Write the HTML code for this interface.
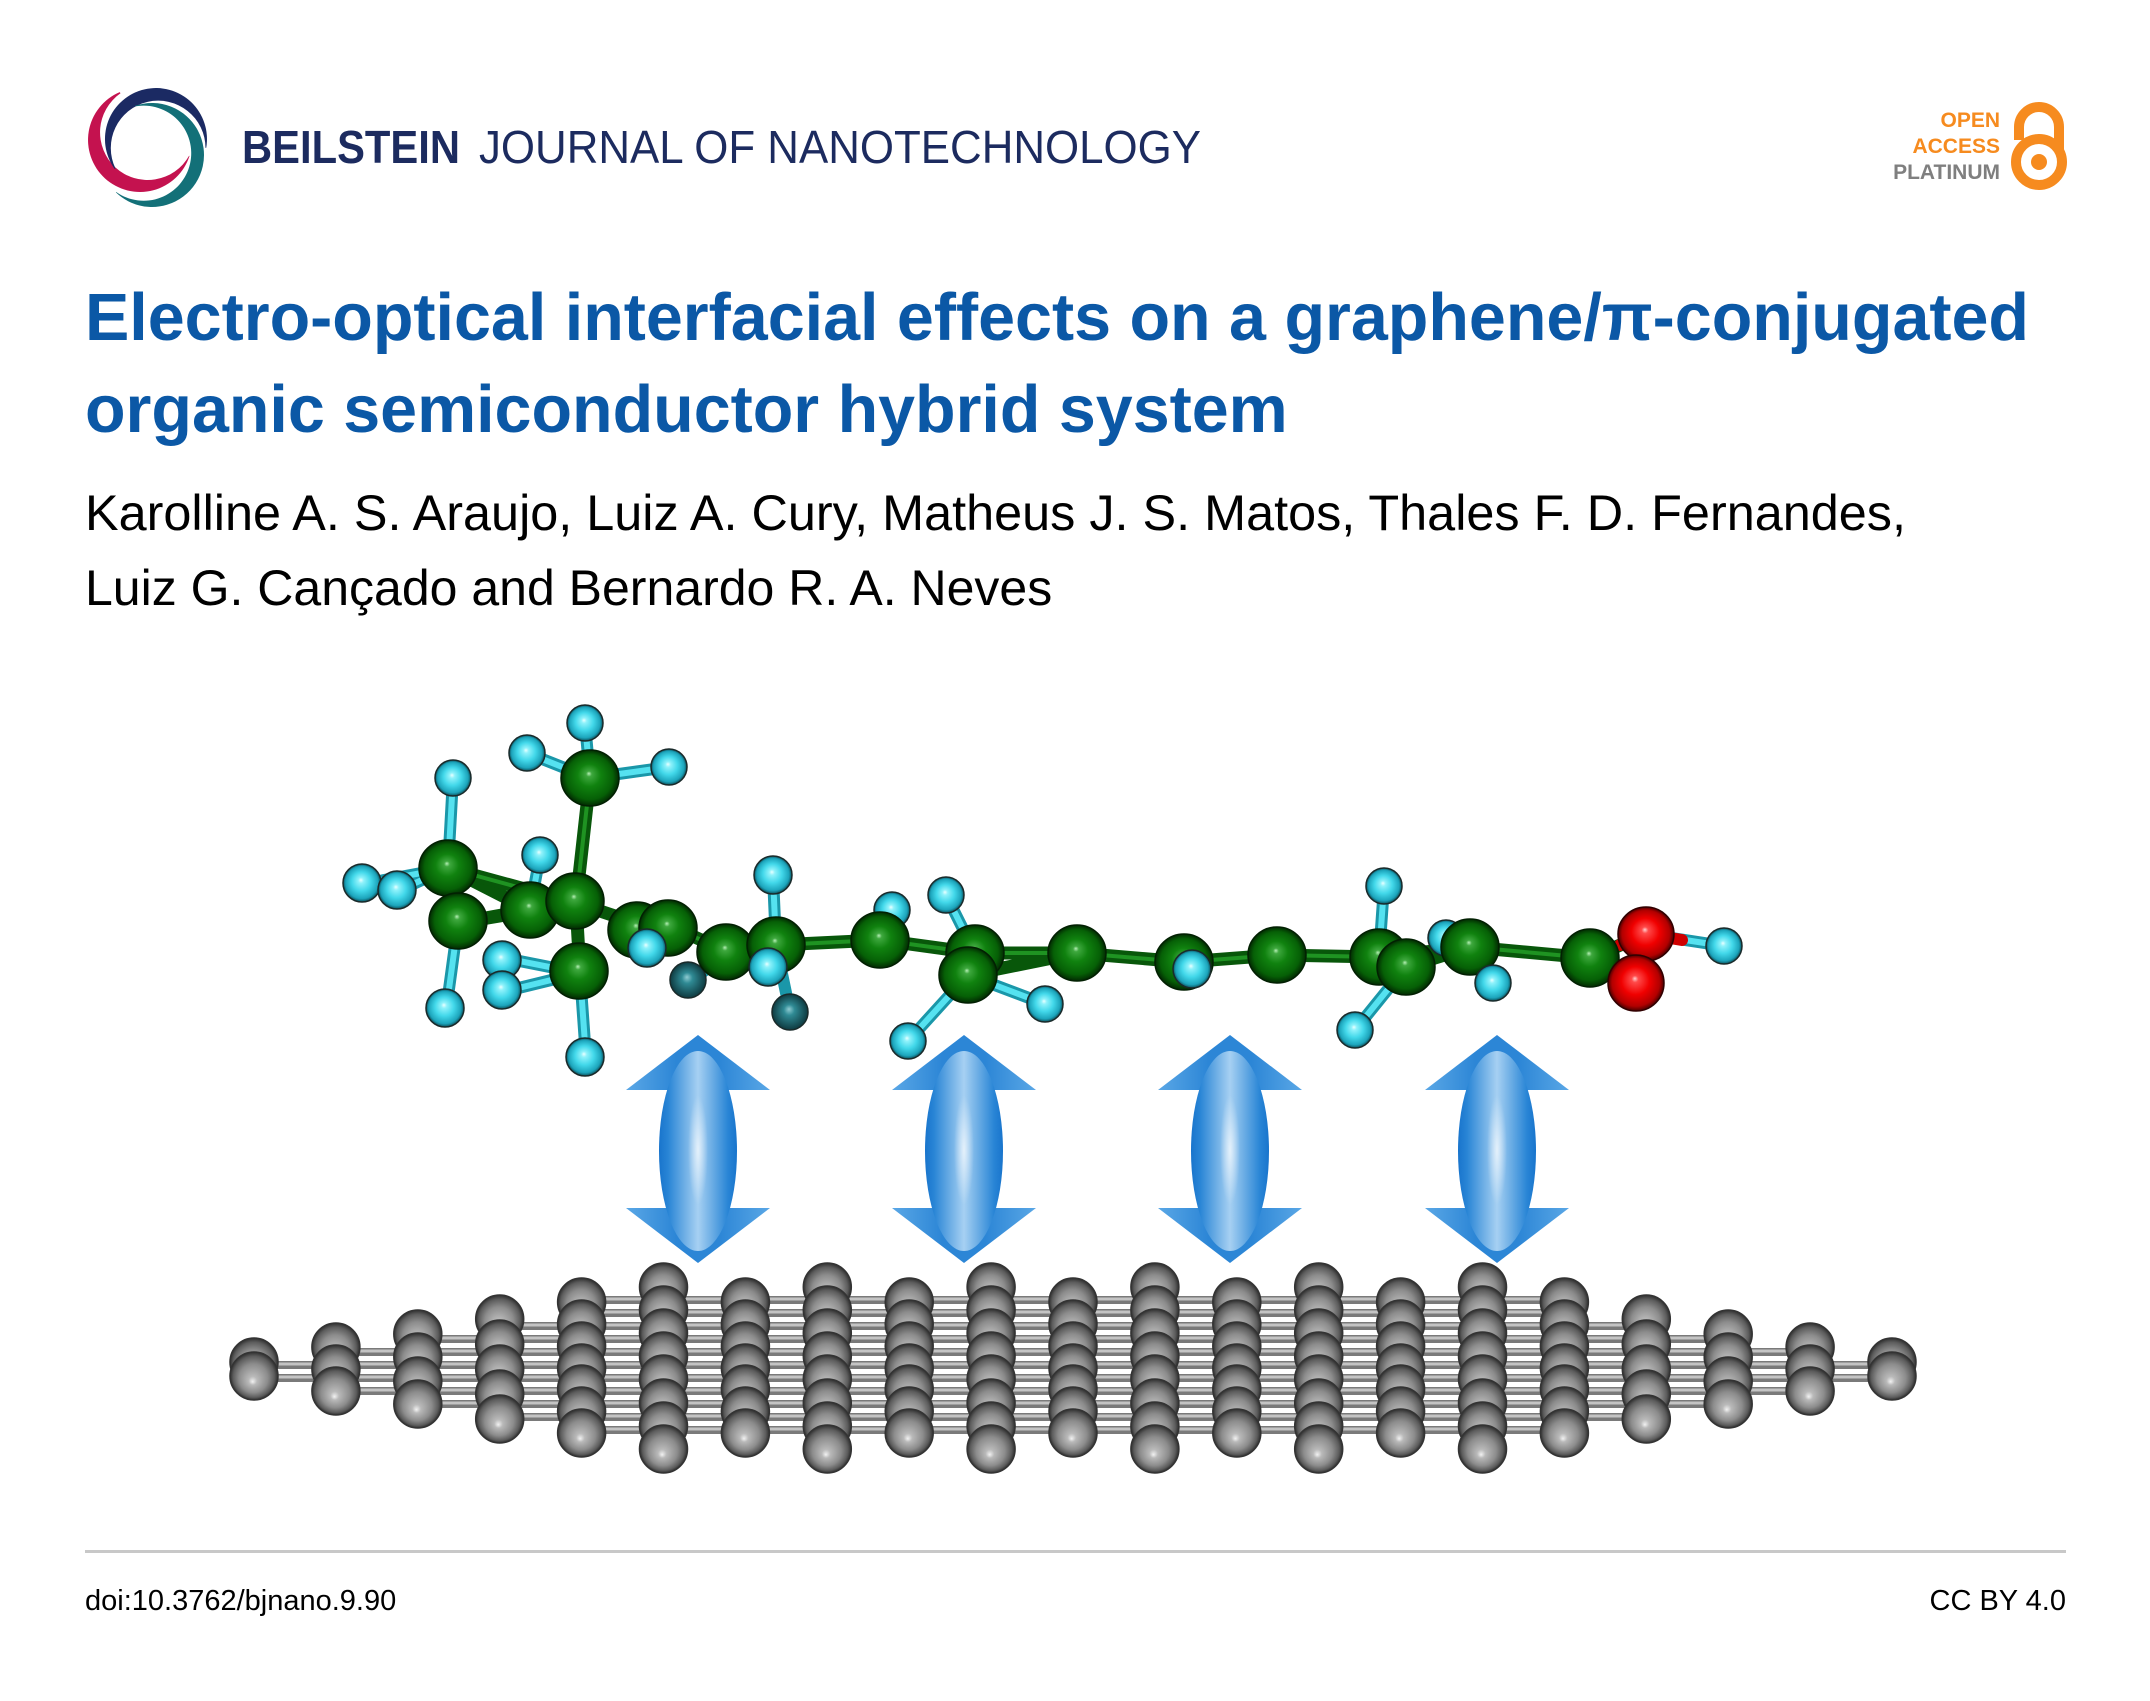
<!DOCTYPE html>
<html><head><meta charset="utf-8"><style>
html,body{margin:0;padding:0;background:#fff;}
svg{display:block;}
</style></head><body>
<svg width="2150" height="1701" viewBox="0 0 2150 1701" xmlns="http://www.w3.org/2000/svg">
<defs>
<radialGradient id="gG" cx="0.5" cy="0.5" r="0.5" fx="0.47" fy="0.62">
<stop offset="0" stop-color="#f2f2f2"/><stop offset="0.18" stop-color="#b9b9b9"/><stop offset="0.6" stop-color="#8c8c8c"/><stop offset="0.86" stop-color="#5c5c5c"/><stop offset="1" stop-color="#2e2e2e"/>
</radialGradient>
<radialGradient id="gC" cx="0.5" cy="0.5" r="0.5" fx="0.48" fy="0.42">
<stop offset="0" stop-color="#b6f0b6"/><stop offset="0.1" stop-color="#3ea83e"/><stop offset="0.4" stop-color="#10820f"/><stop offset="0.8" stop-color="#066006"/><stop offset="1" stop-color="#022a02"/>
</radialGradient>
<radialGradient id="gH" cx="0.5" cy="0.5" r="0.5" fx="0.47" fy="0.42">
<stop offset="0" stop-color="#eaffff"/><stop offset="0.15" stop-color="#8ff2fb"/><stop offset="0.5" stop-color="#42d8ea"/><stop offset="0.85" stop-color="#1ca4bb"/><stop offset="1" stop-color="#0c4f5a"/>
</radialGradient>
<radialGradient id="gHd" cx="0.5" cy="0.5" r="0.5" fx="0.47" fy="0.42">
<stop offset="0" stop-color="#8fcbd2"/><stop offset="0.3" stop-color="#2f8a94"/><stop offset="1" stop-color="#0e3a40"/>
</radialGradient>
<radialGradient id="gO" cx="0.5" cy="0.5" r="0.5" fx="0.48" fy="0.42">
<stop offset="0" stop-color="#ffd0d0"/><stop offset="0.12" stop-color="#ff4a4a"/><stop offset="0.5" stop-color="#f00000"/><stop offset="0.85" stop-color="#b20000"/><stop offset="1" stop-color="#4a0000"/>
</radialGradient>
<linearGradient id="gHead" x1="0" y1="0" x2="1" y2="0">
<stop offset="0" stop-color="#5aa7e6"/><stop offset="0.35" stop-color="#2c86d6"/><stop offset="0.65" stop-color="#2c86d6"/><stop offset="1" stop-color="#5aa7e6"/>
</linearGradient>
<linearGradient id="gShaft" x1="0" y1="0" x2="1" y2="0">
<stop offset="0" stop-color="#1874cc"/><stop offset="0.12" stop-color="#2a86d6"/><stop offset="0.5" stop-color="#a6d0f2"/><stop offset="0.88" stop-color="#2a86d6"/><stop offset="1" stop-color="#1874cc"/>
</linearGradient>
<radialGradient id="gGlow" cx="0.5" cy="0.5" r="0.5">
<stop offset="0" stop-color="#ffffff" stop-opacity="0.7"/><stop offset="1" stop-color="#ffffff" stop-opacity="0"/>
</radialGradient>

<g id="arrow">
<polygon points="-72,1090 0,1035 72,1090" fill="url(#gHead)"/>
<polygon points="-72,1208 0,1263 72,1208" fill="url(#gHead)"/>
<ellipse cx="0" cy="1151" rx="39" ry="100" fill="url(#gShaft)"/>
<ellipse cx="0" cy="1150" rx="10" ry="55" fill="url(#gGlow)"/>
</g>

<g id="c2" fill="url(#gG)" stroke="#333" stroke-width="1.5">
<ellipse cx="0" cy="1362" rx="24" ry="24"/><ellipse cx="0" cy="1376" rx="24" ry="24"/>
</g>
<g id="c3" fill="url(#gG)" stroke="#333" stroke-width="1.5">
<ellipse cx="0" cy="1347" rx="24" ry="24"/><ellipse cx="0" cy="1369" rx="24" ry="24"/><ellipse cx="0" cy="1391" rx="24" ry="24"/>
</g>
<g id="c4" fill="url(#gG)" stroke="#333" stroke-width="1.5">
<ellipse cx="0" cy="1334" rx="24" ry="24"/><ellipse cx="0" cy="1357" rx="24" ry="24"/><ellipse cx="0" cy="1381" rx="24" ry="24"/><ellipse cx="0" cy="1404" rx="24" ry="24"/>
</g>
<g id="c5" fill="url(#gG)" stroke="#333" stroke-width="1.5">
<ellipse cx="0" cy="1319" rx="24" ry="24"/><ellipse cx="0" cy="1344" rx="24" ry="24"/><ellipse cx="0" cy="1369" rx="24" ry="24"/><ellipse cx="0" cy="1394" rx="24" ry="24"/><ellipse cx="0" cy="1419" rx="24" ry="24"/>
</g>
<g id="cS" fill="url(#gG)" stroke="#333" stroke-width="1.5">
<ellipse cx="0" cy="1302" rx="24" ry="24"/><ellipse cx="0" cy="1324" rx="24" ry="24"/><ellipse cx="0" cy="1346" rx="24" ry="24"/><ellipse cx="0" cy="1368" rx="24" ry="24"/><ellipse cx="0" cy="1389" rx="24" ry="24"/><ellipse cx="0" cy="1411" rx="24" ry="24"/><ellipse cx="0" cy="1433" rx="24" ry="24"/>
</g>
<g id="cT" fill="url(#gG)" stroke="#333" stroke-width="1.5">
<ellipse cx="0" cy="1287" rx="24" ry="24"/><ellipse cx="0" cy="1310" rx="24" ry="24"/><ellipse cx="0" cy="1333" rx="24" ry="24"/><ellipse cx="0" cy="1356" rx="24" ry="24"/><ellipse cx="0" cy="1379" rx="24" ry="24"/><ellipse cx="0" cy="1403" rx="24" ry="24"/><ellipse cx="0" cy="1426" rx="24" ry="24"/><ellipse cx="0" cy="1449" rx="24" ry="24"/>
</g>
</defs>

<rect x="0" y="0" width="2150" height="1701" fill="#ffffff"/>

<!-- Logo -->
<path d="M119.7,92.1 A52,52 0 1 0 189.5,156 L189.1,155.8 A47.6,47.6 0 1 1 120.5,93.3 Z" fill="#c4124f"/>
<path d="M114.7,169 A51,51 0 1 1 206.2,147.9 L205.5,147.9 A47.35,47.35 0 1 0 115.5,168.6 Z" fill="#1b2a63"/>
<path d="M135.1,105.8 A52,52 0 1 1 115.9,192.4 L116.2,192 A47.55,47.55 0 1 0 135.2,106.4 Z" fill="#137078"/>

<text x="242" y="163" font-family="'Liberation Sans', sans-serif" font-size="46" font-weight="bold" fill="#1c2b5f" textLength="218" lengthAdjust="spacingAndGlyphs">BEILSTEIN</text>
<text x="479" y="163" font-family="'Liberation Sans', sans-serif" font-size="46" fill="#1c2b5f" textLength="722" lengthAdjust="spacingAndGlyphs">JOURNAL OF NANOTECHNOLOGY</text>

<!-- Open access -->
<g font-family="'Liberation Sans', sans-serif" font-size="21" font-weight="bold" text-anchor="end">
<text x="2000" y="127" fill="#f68b1f">OPEN</text>
<text x="2000" y="153" fill="#f68b1f">ACCESS</text>
<text x="2000" y="179" fill="#7f7f7f">PLATINUM</text>
</g>
<path d="M2019,140 L2019,127 A20,20 0 0 1 2059,127 L2059,152" fill="none" stroke="#f68b1f" stroke-width="10"/>
<circle cx="2039" cy="162" r="23" fill="none" stroke="#f68b1f" stroke-width="10"/>
<circle cx="2039" cy="162" r="8" fill="#f68b1f"/>

<!-- Title -->
<g font-family="'Liberation Sans', sans-serif" font-size="66.4" font-weight="bold" fill="#0b58a6">
<text x="85" y="340" textLength="1944" lengthAdjust="spacingAndGlyphs">Electro-optical interfacial effects on a graphene/π-conjugated</text>
<text x="85" y="432">organic semiconductor hybrid system</text>
</g>
<g font-family="'Liberation Sans', sans-serif" font-size="50" fill="#000">
<text x="85" y="530" textLength="1821" lengthAdjust="spacingAndGlyphs">Karolline A. S. Araujo, Luiz A. Cury, Matheus J. S. Matos, Thales F. D. Fernandes,</text>
<text x="85" y="605">Luiz G. Cançado and Bernardo R. A. Neves</text>
</g>

<!-- Arrows -->
<use href="#arrow" x="698" y="0"/>
<use href="#arrow" x="964" y="0"/>
<use href="#arrow" x="1230" y="0"/>
<use href="#arrow" x="1497" y="0"/>

<!-- Graphene bonds -->
<g stroke="#7a7a7a" stroke-width="8">
<line x1="254" y1="1365" x2="1892" y2="1365"/><line x1="254" y1="1378" x2="1892" y2="1378"/>
<line x1="336" y1="1352" x2="1810" y2="1352"/><line x1="336" y1="1391" x2="1810" y2="1391"/>
<line x1="418" y1="1339" x2="1728" y2="1339"/><line x1="418" y1="1404" x2="1728" y2="1404"/>
<line x1="500" y1="1326" x2="1646" y2="1326"/><line x1="500" y1="1417" x2="1646" y2="1417"/>
<line x1="582" y1="1313" x2="1564" y2="1313"/><line x1="582" y1="1430" x2="1564" y2="1430"/>
<line x1="582" y1="1300" x2="1564" y2="1300"/>
</g>
<g stroke="#c4c4c4" stroke-width="3">
<line x1="254" y1="1364" x2="1892" y2="1364"/><line x1="254" y1="1377" x2="1892" y2="1377"/>
<line x1="336" y1="1351" x2="1810" y2="1351"/><line x1="336" y1="1390" x2="1810" y2="1390"/>
<line x1="418" y1="1338" x2="1728" y2="1338"/><line x1="418" y1="1403" x2="1728" y2="1403"/>
<line x1="500" y1="1325" x2="1646" y2="1325"/><line x1="500" y1="1416" x2="1646" y2="1416"/>
<line x1="582" y1="1312" x2="1564" y2="1312"/><line x1="582" y1="1429" x2="1564" y2="1429"/>
<line x1="582" y1="1299" x2="1564" y2="1299"/>
</g>

<!-- Graphene atoms -->
<use href="#c2" x="254" y="0"/>
<use href="#c3" x="335.9" y="0"/>
<use href="#c4" x="417.8" y="0"/>
<use href="#c5" x="499.7" y="0"/>
<use href="#cS" x="581.6" y="0"/>
<use href="#cT" x="663.5" y="0"/>
<use href="#cS" x="745.4" y="0"/>
<use href="#cT" x="827.3" y="0"/>
<use href="#cS" x="909.2" y="0"/>
<use href="#cT" x="991.1" y="0"/>
<use href="#cS" x="1073" y="0"/>
<use href="#cT" x="1154.9" y="0"/>
<use href="#cS" x="1236.8" y="0"/>
<use href="#cT" x="1318.7" y="0"/>
<use href="#cS" x="1400.6" y="0"/>
<use href="#cT" x="1482.5" y="0"/>
<use href="#cS" x="1564.4" y="0"/>
<use href="#c5" x="1646.3" y="0"/>
<use href="#c4" x="1728.2" y="0"/>
<use href="#c3" x="1810.1" y="0"/>
<use href="#c2" x="1892" y="0"/>

<!-- Molecule bonds: C-H (cyan) -->
<g stroke="#1a97a9" stroke-width="12" stroke-linecap="round">
<line x1="590" y1="778" x2="585" y2="723"/><line x1="590" y1="778" x2="527" y2="753"/><line x1="590" y1="778" x2="669" y2="767"/>
<line x1="448" y1="868" x2="453" y2="778"/><line x1="448" y1="868" x2="363" y2="884"/><line x1="448" y1="868" x2="398" y2="891"/>
<line x1="530" y1="910" x2="540" y2="855"/><line x1="580" y1="973" x2="504" y2="958"/><line x1="580" y1="973" x2="502" y2="992"/>
<line x1="458" y1="923" x2="446" y2="1011"/><line x1="580" y1="973" x2="586" y2="1058"/><line x1="668" y1="925" x2="647" y2="945"/>
<line x1="728" y1="952" x2="690" y2="982"/><line x1="776" y1="945" x2="773" y2="876"/><line x1="776" y1="945" x2="770" y2="973"/>
<line x1="776" y1="945" x2="790" y2="1012"/><line x1="880" y1="940" x2="892" y2="910"/><line x1="975" y1="953" x2="946" y2="895"/>
<line x1="968" y1="975" x2="908" y2="1041"/><line x1="968" y1="975" x2="1045" y2="1004"/><line x1="1184" y1="962" x2="1192" y2="969"/>
<line x1="1379" y1="957" x2="1384" y2="886"/><line x1="1406" y1="967" x2="1355" y2="1030"/><line x1="1470" y1="947" x2="1446" y2="938"/>
<line x1="1470" y1="947" x2="1493" y2="983"/><line x1="1646" y1="934" x2="1724" y2="946"/>
</g>
<g stroke="#55e2f0" stroke-width="6" stroke-linecap="round">
<line x1="590" y1="778" x2="585" y2="723"/><line x1="590" y1="778" x2="527" y2="753"/><line x1="590" y1="778" x2="669" y2="767"/>
<line x1="448" y1="868" x2="453" y2="778"/><line x1="448" y1="868" x2="363" y2="884"/><line x1="448" y1="868" x2="398" y2="891"/>
<line x1="530" y1="910" x2="540" y2="855"/><line x1="580" y1="973" x2="504" y2="958"/><line x1="580" y1="973" x2="502" y2="992"/>
<line x1="458" y1="923" x2="446" y2="1011"/><line x1="580" y1="973" x2="586" y2="1058"/><line x1="668" y1="925" x2="647" y2="945"/>
<line x1="776" y1="945" x2="773" y2="876"/><line x1="776" y1="945" x2="770" y2="973"/>
<line x1="880" y1="940" x2="892" y2="910"/><line x1="975" y1="953" x2="946" y2="895"/>
<line x1="968" y1="975" x2="908" y2="1041"/><line x1="968" y1="975" x2="1045" y2="1004"/>
<line x1="1379" y1="957" x2="1384" y2="886"/><line x1="1406" y1="967" x2="1355" y2="1030"/>
<line x1="1470" y1="947" x2="1493" y2="983"/><line x1="1685" y1="940" x2="1724" y2="946"/>
</g>
<!-- C-C bonds (green) -->
<g stroke="#08570a" stroke-width="13" stroke-linecap="round">
<line x1="590" y1="778" x2="576" y2="903"/><line x1="448" y1="868" x2="458" y2="923"/><line x1="448" y1="868" x2="530" y2="910"/>
<line x1="448" y1="868" x2="576" y2="903"/><line x1="458" y1="923" x2="530" y2="910"/><line x1="458" y1="923" x2="576" y2="903"/>
<line x1="530" y1="910" x2="576" y2="903"/><line x1="576" y1="903" x2="580" y2="973"/><line x1="576" y1="903" x2="642" y2="925"/>
<line x1="642" y1="925" x2="668" y2="925"/><line x1="668" y1="925" x2="728" y2="952"/><line x1="728" y1="952" x2="776" y2="945"/>
<line x1="776" y1="945" x2="880" y2="940"/><line x1="880" y1="940" x2="975" y2="953"/><line x1="975" y1="953" x2="968" y2="975"/>
<line x1="975" y1="953" x2="1077" y2="953"/><line x1="968" y1="975" x2="1077" y2="953"/><line x1="1077" y1="953" x2="1184" y2="962"/>
<line x1="1184" y1="962" x2="1277" y2="955"/><line x1="1277" y1="955" x2="1379" y2="957"/><line x1="1379" y1="957" x2="1406" y2="967"/>
<line x1="1406" y1="967" x2="1470" y2="947"/><line x1="1379" y1="957" x2="1470" y2="947"/><line x1="1470" y1="947" x2="1590" y2="958"/>
<line x1="1590" y1="958" x2="1646" y2="934"/><line x1="1590" y1="958" x2="1636" y2="983"/>
</g>
<g stroke="#1f9322" stroke-width="4" stroke-linecap="round">
<line x1="590" y1="778" x2="576" y2="903"/><line x1="448" y1="868" x2="576" y2="903"/>
<line x1="668" y1="925" x2="728" y2="952"/><line x1="728" y1="952" x2="776" y2="945"/>
<line x1="776" y1="945" x2="880" y2="940"/><line x1="880" y1="940" x2="975" y2="953"/>
<line x1="975" y1="953" x2="1077" y2="953"/><line x1="1077" y1="953" x2="1184" y2="962"/>
<line x1="1184" y1="962" x2="1277" y2="955"/><line x1="1277" y1="955" x2="1379" y2="957"/>
<line x1="1470" y1="947" x2="1590" y2="958"/>
</g>
<g stroke="#d00000" stroke-width="12" stroke-linecap="round">
<line x1="1620" y1="945" x2="1646" y2="934"/><line x1="1615" y1="972" x2="1636" y2="983"/><line x1="1646" y1="934" x2="1682" y2="940"/>
</g>

<!-- back atoms -->
<g stroke="#1a2a2a" stroke-width="1.5">
<circle cx="892" cy="910" r="18" fill="url(#gH)"/>
<circle cx="1446" cy="938" r="18" fill="url(#gH)"/>
<circle cx="688" cy="980" r="18" fill="url(#gHd)"/>
<circle cx="790" cy="1012" r="18" fill="url(#gHd)"/>
<circle cx="362" cy="883" r="19" fill="url(#gH)"/>
<circle cx="397" cy="890" r="19" fill="url(#gH)"/>
</g>
<!-- carbons / oxygens -->
<g stroke="#022002" stroke-width="1.5">
<ellipse cx="590" cy="778" rx="29" ry="28" fill="url(#gC)"/>
<ellipse cx="448" cy="868" rx="29" ry="28" fill="url(#gC)"/>
<ellipse cx="530" cy="910" rx="29" ry="28" fill="url(#gC)"/>
<ellipse cx="458" cy="921" rx="29" ry="28" fill="url(#gC)"/>
<ellipse cx="575" cy="901" rx="29" ry="28" fill="url(#gC)"/>
<ellipse cx="637" cy="930" rx="29" ry="28" fill="url(#gC)"/>
<ellipse cx="668" cy="928" rx="29" ry="28" fill="url(#gC)"/>
<ellipse cx="579" cy="971" rx="29" ry="28" fill="url(#gC)"/>
<ellipse cx="726" cy="952" rx="29" ry="28" fill="url(#gC)"/>
<ellipse cx="776" cy="945" rx="29" ry="28" fill="url(#gC)"/>
<ellipse cx="880" cy="940" rx="29" ry="28" fill="url(#gC)"/>
<ellipse cx="975" cy="953" rx="29" ry="28" fill="url(#gC)"/>
<ellipse cx="968" cy="975" rx="29" ry="28" fill="url(#gC)"/>
<ellipse cx="1077" cy="953" rx="29" ry="28" fill="url(#gC)"/>
<ellipse cx="1184" cy="962" rx="29" ry="28" fill="url(#gC)"/>
<ellipse cx="1277" cy="955" rx="29" ry="28" fill="url(#gC)"/>
<ellipse cx="1379" cy="957" rx="29" ry="28" fill="url(#gC)"/>
<ellipse cx="1406" cy="967" rx="29" ry="28" fill="url(#gC)"/>
<ellipse cx="1470" cy="947" rx="29" ry="28" fill="url(#gC)"/>
<ellipse cx="1590" cy="958" rx="29" ry="29" fill="url(#gC)"/>
</g>
<g stroke="#300000" stroke-width="1.5">
<ellipse cx="1646" cy="934" rx="28" ry="27" fill="url(#gO)"/>
<ellipse cx="1636" cy="983" rx="28" ry="28" fill="url(#gO)"/>
</g>
<!-- front hydrogens -->
<g stroke="#1a2a2a" stroke-width="1.5" fill="url(#gH)">
<circle cx="585" cy="723" r="18"/>
<circle cx="527" cy="753" r="18"/>
<circle cx="669" cy="767" r="18"/>
<circle cx="453" cy="778" r="18"/>
<circle cx="540" cy="855" r="18"/>
<circle cx="502" cy="960" r="19"/>
<circle cx="502" cy="990" r="19"/>
<circle cx="445" cy="1008" r="19"/>
<circle cx="647" cy="948" r="19"/>
<circle cx="585" cy="1057" r="19"/>
<circle cx="773" cy="875" r="19"/>
<circle cx="768" cy="967" r="19"/>
<circle cx="946" cy="895" r="18"/>
<circle cx="908" cy="1041" r="18"/>
<circle cx="1045" cy="1004" r="18"/>
<circle cx="1192" cy="969" r="19"/>
<circle cx="1384" cy="886" r="18"/>
<circle cx="1355" cy="1030" r="18"/>
<circle cx="1493" cy="983" r="18"/>
<circle cx="1724" cy="946" r="18"/>
</g>

<!-- Footer -->
<rect x="85" y="1550" width="1981" height="3" fill="#c8c8c8"/>
<g font-family="'Liberation Sans', sans-serif" font-size="29" fill="#000">
<text x="85" y="1610">doi:10.3762/bjnano.9.90</text>
<text x="2066" y="1610" text-anchor="end">CC BY 4.0</text>
</g>
</svg>
</body></html>
